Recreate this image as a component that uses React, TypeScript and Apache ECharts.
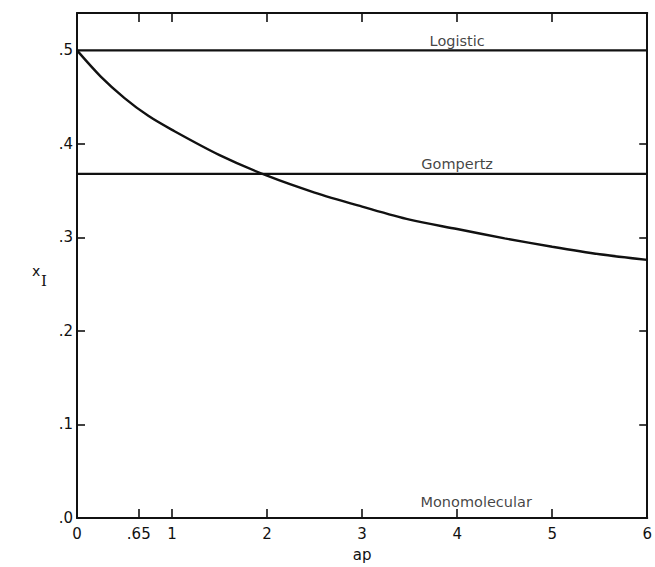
import React, { useEffect, useRef } from "react";
import * as echarts from "echarts";

// Inflection-point relative size x_I versus ap (Richards-type curve)
const apValues = [0, 0.25, 0.5, 0.75, 1, 1.5, 2, 2.5, 3, 3.5, 4, 4.5, 5, 5.5, 6];
const xiValues = [0.5, 0.472, 0.449, 0.43, 0.415, 0.388, 0.366, 0.348, 0.333, 0.319, 0.309, 0.299, 0.29, 0.282, 0.276];

// Reference models (constant x_I)
const referenceNames = ["Logistic", "Gompertz", "Monomolecular"];
const referenceLevels = [0.5, 0.368, 0];
const referenceLabelAp = [4.0, 4.0, 4.2];

// Axis ticks / labels
const xTickValues = [0.65, 1, 2, 3, 4, 5];
const xLabelValues = [0, 0.65, 1, 2, 3, 4, 5, 6];
const yTickValues = [0.1, 0.2, 0.3, 0.4];
const yLabelValues = [0, 0.1, 0.2, 0.3, 0.4, 0.5];

const INK = "#111";
const FONT = "DejaVu Sans";

export default function App() {
  const ref = useRef<HTMLDivElement>(null);

  useEffect(() => {
    if (!ref.current) return;
    const chart = echarts.init(ref.current, null, { renderer: "svg" });

    const fmtX = (v: number) => (v === 0.65 ? ".65" : String(Math.round(v)));
    const fmtY = (v: number) => v.toFixed(1).replace(/^0/, "");

    const axisLine = { show: true, onZero: false, lineStyle: { color: INK, width: 2 } };
    const tickStyle = { color: INK, width: 1.6 };

    const curveData = apValues.map((a, i) => [a, xiValues[i]]);
    const refSeries = referenceNames.map((name, i) => ({
      type: "line",
      name,
      data: [
        [0, referenceLevels[i]],
        [6, referenceLevels[i]],
      ],
      symbol: "none",
      lineStyle: { color: INK, width: 2.2 },
      silent: true,
      z: 3,
    }));
    const labelSeries = {
      type: "scatter",
      symbolSize: 0,
      data: referenceNames.map((name, i) => ({
        name,
        value: [referenceLabelAp[i], referenceLevels[i]],
        label: { distance: i === 2 ? 9 : 2 },
      })),
      label: {
        show: true,
        position: "top",
        formatter: (p: any) => p.name,
        color: INK,
        fontFamily: FONT,
        fontSize: 14.5,
      },
      silent: true,
    };

    chart.setOption({
      animation: false,
      backgroundColor: "#fff",
      grid: { left: 77, right: 6, top: 13, bottom: 42, containLabel: false },
      xAxis: [
        {
          type: "value",
          position: "bottom",
          min: 0,
          max: 6,
          name: "ap",
          nameLocation: "middle",
          nameGap: 29,
          nameTextStyle: { color: INK, fontFamily: FONT, fontSize: 15 },
          axisLine,
          axisTick: { show: true, inside: true, length: 9, customValues: xTickValues, lineStyle: tickStyle },
          axisLabel: { show: true, customValues: xLabelValues, formatter: fmtX, color: INK, fontFamily: FONT, fontSize: 15, margin: 8 },
          splitLine: { show: false },
        },
        {
          type: "value",
          position: "top",
          min: 0,
          max: 6,
          axisLine,
          axisTick: { show: true, inside: true, length: 9, customValues: xTickValues, lineStyle: tickStyle },
          axisLabel: { show: false },
          splitLine: { show: false },
        },
      ],
      yAxis: [
        {
          type: "value",
          position: "left",
          min: 0,
          max: 0.54,
          axisLine,
          axisTick: { show: true, inside: true, length: 8, customValues: yTickValues, lineStyle: tickStyle },
          axisLabel: { show: true, customValues: yLabelValues, formatter: fmtY, color: INK, fontFamily: FONT, fontSize: 15, margin: 4 },
          splitLine: { show: false },
        },
        {
          type: "value",
          position: "right",
          min: 0,
          max: 0.54,
          axisLine,
          axisTick: { show: true, inside: true, length: 8, customValues: yTickValues, lineStyle: tickStyle },
          axisLabel: { show: false },
          splitLine: { show: false },
        },
      ],
      graphic: [
        {
          type: "group",
          left: 32,
          top: 264,
          children: [
            { type: "text", x: 0, y: 0, style: { text: "x", fill: INK, font: `14px "${FONT}"` } },
            { type: "text", x: 9, y: 9, style: { text: "I", fill: INK, font: `15px "DejaVu Serif"` } },
          ],
        },
      ],
      series: [
        {
          type: "line",
          name: "x_I",
          data: curveData,
          smooth: 0.3,
          symbol: "none",
          lineStyle: { color: INK, width: 2.4 },
          silent: true,
          z: 4,
        },
        ...refSeries,
        labelSeries,
      ],
    });

    return () => chart.dispose();
  }, []);

  return <div ref={ref} style={{ width: 655, height: 567, position: "absolute", left: 0, top: 0 }} />;
}
